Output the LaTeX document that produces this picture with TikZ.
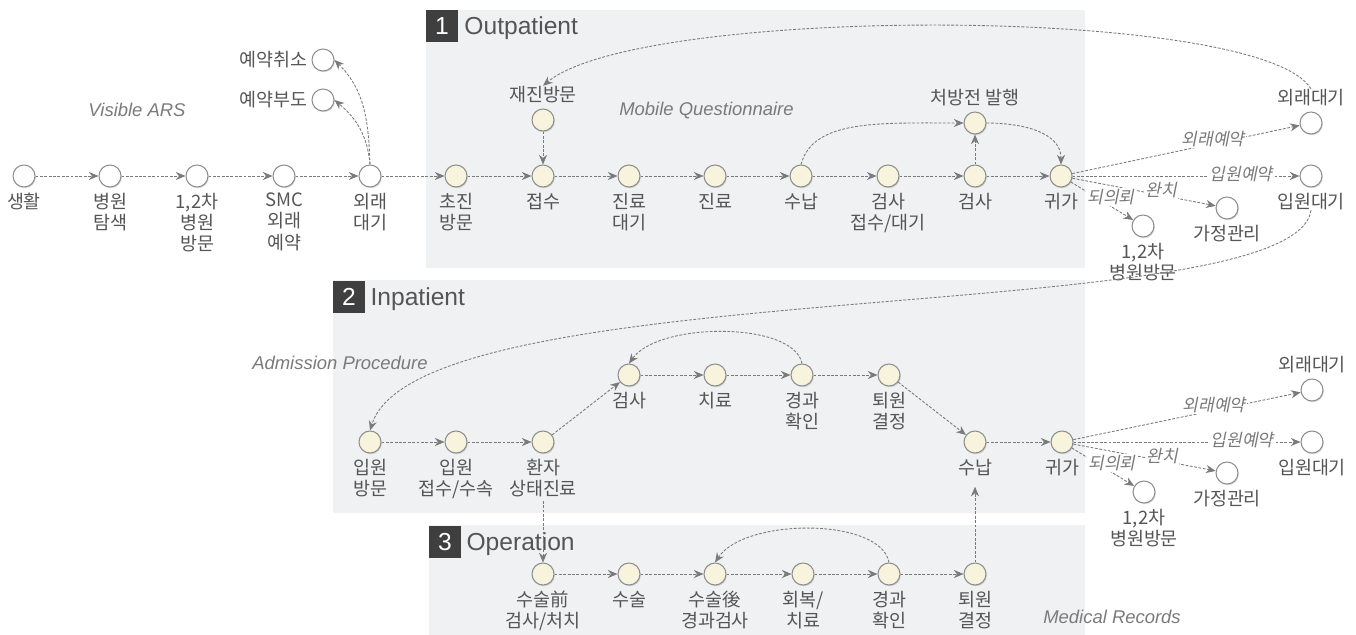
\documentclass[tikz,border=0pt]{standalone}
\usepackage{fontspec}
\setmainfont{Noto Sans CJK KR}
\setsansfont{Liberation Sans}
\newfontfamily\krslant{Noto Sans CJK KR}[FakeSlant=0.2]
\usetikzlibrary{arrows.meta,shadows}

\definecolor{cream}{HTML}{F8F3DC}
\definecolor{rim}{HTML}{8E8E8E}
\definecolor{panelbg}{HTML}{EFF1F3}
\definecolor{tagbg}{HTML}{3F3F3F}
\definecolor{ink}{HTML}{555555}
\definecolor{wire}{HTML}{7A7A7A}
\definecolor{faint}{HTML}{7A7A7A}

\tikzset{
  spot/.style={circle, draw=rim, line width=0.6pt, fill=cream, minimum size=0.44cm, inner sep=0pt,
    drop shadow={shadow xshift=0.5pt, shadow yshift=-0.7pt, opacity=0.3}},
  ext/.style={spot, fill=white},
  lbl/.style={text=ink, align=center, inner sep=0pt, font=\fontsize{10.5}{12}\selectfont},
  flow/.style={draw=wire, line width=0.5pt, dash pattern=on 1.6pt off 0.9pt,
    -{Stealth[length=5.5pt,width=4.6pt]}},
  via/.style={text=faint, fill=white, inner sep=0.5pt, font=\krslant\fontsize{9.8}{11}\selectfont},
  note/.style={text=faint, inner sep=0pt, font=\sffamily\itshape\fontsize{10.5}{12}\selectfont},
  panel/.style={fill=panelbg},
  tag/.style={fill=tagbg, text=white, minimum size=17.8pt, inner sep=0pt, font=\sffamily\fontsize{14}{14}\selectfont},
  title/.style={text=ink, inner sep=0pt, font=\sffamily\fontsize{14}{14}\selectfont},
  every label/.style={lbl},
  label distance=3pt,
}

\begin{document}
\begin{tikzpicture}[x=0.02cm, y=-0.02cm]
\useasboundingbox (0,0) rectangle (1356,635);

% panels
\fill[panel] (426,10) rectangle (1085,268);
\fill[panel] (333,280) rectangle (1085,513);
\fill[panel] (429,525) rectangle (1085,635);
\node[tag, anchor=north west] (tag1) at (426,10) {1};
\node[title, anchor=base west] (out) at ([xshift=3.5pt]tag1.base east) {Outpatient};
\node[tag, anchor=north west] (tag2) at (333,281) {2};
\node[title, anchor=base west] (inp) at ([xshift=3pt]tag2.base east) {Inpatient};
\node[tag, anchor=north west] (tag3) at (429,526) {3};
\node[title, anchor=base west] (opr) at ([xshift=3pt]tag3.base east) {Operation};

\node[note] (ars) at (137,110) {Visible ARS};
\node[note, anchor=west] (mq) at (619,111) {Mobile Questionnaire};
\node[note, anchor=east] (ap) at (428,363) {Admission Procedure};
\node[note, anchor=west] (mr) at (1043,617) {Medical Records};

% row 1
\node[ext, label=below:생활] (life) at (24,176) {};
\node[ext, label=below:{병원\\탐색}] (search) at (110,176) {};
\node[ext, label=below:{1,2차\\병원\\방문}] (local) at (197,176) {};
\node[ext, label=below:{SMC\\외래\\예약}] (smc) at (284,176) {};
\node[ext, label=below:{외래\\대기}] (wait) at (370,176) {};
\node[ext, label={[label distance=2pt]left:예약취소}] (cancel) at (323,60) {};
\node[ext, label={[label distance=2pt]left:예약부도}] (noshow) at (323,100) {};
\node[spot, label=below:{초진\\방문}] (first) at (456,176) {};
\node[spot, label=below:접수] (recv) at (543,176) {};
\node[spot, label={[name=revisitt]above:재진방문}] (revisit) at (543,120) {};
\node[spot, label=below:{진료\\대기}] (dwait) at (629,176) {};
\node[spot, label=below:진료] (exam) at (715,176) {};
\node[spot, label=below:수납] (pay) at (801,176) {};
\node[spot, label=below:{검사\\접수/대기}] (trecv) at (888,176) {};
\node[spot, label=below:검사] (test) at (975,176) {};
\node[spot, label=above:처방전 발행] (rx) at (975,123) {};
\node[spot, label=below:귀가] (home) at (1061,176) {};
\node[ext, label={[name=owaitt]above:외래대기}] (owait) at (1311,123) {};
\node[ext, label={[name=iwaitt]below:입원대기}] (iwait) at (1311,176) {};
\node[ext, label=below:가정관리] (care) at (1227,208) {};
\node[ext, label=below:{1,2차\\병원방문}] (refer) at (1143,226) {};

% row 2
\node[spot, label=below:{입원\\방문}] (ivisit) at (370,442) {};
\node[spot, label=below:{입원\\접수/수속}] (iadmit) at (456,442) {};
\node[spot, label={[name=istatet]below:{환자\\상태진료}}] (istate) at (543,442) {};
\node[spot, label=below:검사] (itest) at (629,375) {};
\node[spot, label=below:치료] (icure) at (715,375) {};
\node[spot, label=below:{경과\\확인}] (icheck) at (802,375) {};
\node[spot, label=below:{퇴원\\결정}] (idecide) at (889,375) {};
\node[spot, label={[name=ipayt]below:수납}] (ipay) at (975,442) {};
\node[spot, label=below:귀가] (ihome) at (1062,442) {};
\node[ext, label=above:외래대기] (iowait) at (1312,390) {};
\node[ext, label=below:입원대기] (iiwait) at (1312,442) {};
\node[ext, label=below:가정관리] (icare) at (1227,473) {};
\node[ext, label=below:{1,2차\\병원방문}] (irefer) at (1144,492) {};

% row 3
\node[spot, label=below:{수술前\\검사/처치}] (opre) at (543,574) {};
\node[spot, label=below:수술] (oop) at (629,574) {};
\node[spot, label=below:{수술後\\경과검사}] (opost) at (715,574) {};
\node[spot, label=below:{회복/\\치료}] (orec) at (803,574) {};
\node[spot, label=below:{경과\\확인}] (ocheck) at (889,574) {};
\node[spot, label=below:{퇴원\\결정}] (odecide) at (975,574) {};

% straight runs
\foreach \a/\b in {life/search, search/local, local/smc, smc/wait, wait/first, first/recv,
    recv/dwait, dwait/exam, exam/pay, pay/trecv, trecv/test, test/home, revisit/recv, test/rx,
    ivisit/iadmit, iadmit/istate, istate/itest, itest/icure, icure/icheck, icheck/idecide,
    idecide/ipay, ipay/ihome, opre/oop, oop/opost, opost/orec, orec/ocheck, ocheck/odecide}
  \draw[flow] (\a) -- (\b);

% exits after going home
\foreach \h/\o/\i/\c/\r in {home/owait/iwait/care/refer, ihome/iowait/iiwait/icare/irefer} {
  \draw[flow] (\h) -- (\o);
  \draw[flow] (\h) -- (\i);
  \draw[flow] (\h) -- (\c);
  \draw[flow] (\h) -- (\r);
  \node[via] (\h-o) at ([shift={(152,-37)}]\h) {외래예약};
  \node[via] (\h-i) at ([shift={(180,-2)}]\h) {입원예약};
  \node[via] (\h-c) at ([shift={(100,14)}]\h) {완치};
  \node[via] (\h-r) at ([shift={(50,21)}]\h) {되의뢰};
}

% curved links
\draw[flow] (wait.north) to[out=92,in=-45] (cancel.east);
\draw[flow] (wait.north) to[out=95,in=-40] (noshow.east);
\draw[flow] (pay.north) .. controls +(12,-45) and +(-85,0) .. (rx.west);
\draw[flow] (rx.east) to[out=0,in=90] (home.north);
\draw[flow] (owaitt.north) .. controls (1260,5) and (640,5) .. (revisitt.north);
\draw[flow] (iwaitt.south) .. controls (1295,330) and (420,270) .. (ivisit.north);
\draw[flow] (icheck.north) .. controls +(-8,-42) and +(30,-42) .. (itest.north);
\draw[flow] (ocheck.north) .. controls +(-8,-45) and +(30,-45) .. (opost.north);
\draw[flow, shorten <=2pt] (istatet.south) -- (opre.north);
\draw[flow, shorten >=6pt] (odecide.north) -- (ipayt.south);
\end{tikzpicture}
\end{document}
